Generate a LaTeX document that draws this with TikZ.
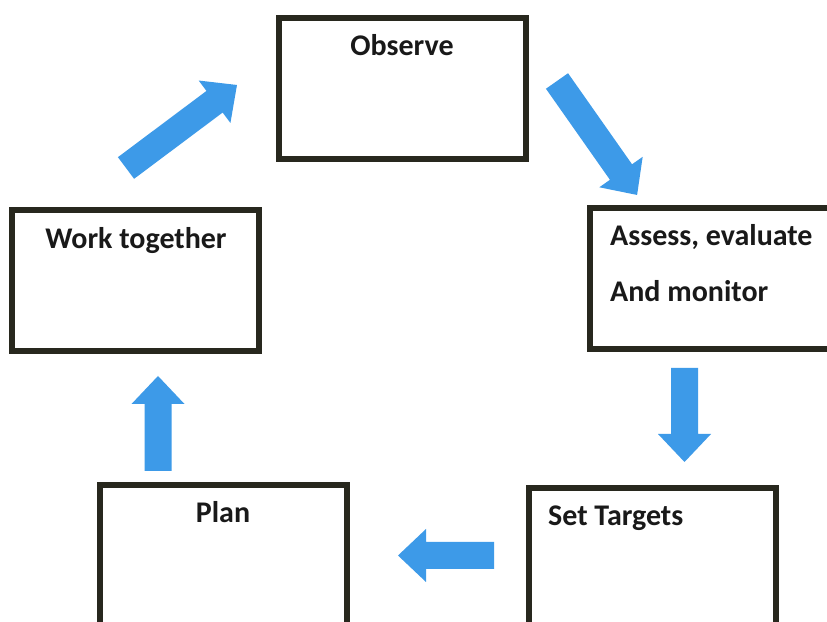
\documentclass[tikz,border=0pt]{standalone}
\usepackage{fontspec}
\setmainfont{Carlito}
\definecolor{boxline}{RGB}{40,40,30}
\definecolor{arrowblue}{RGB}{61,154,232}
\definecolor{txt}{RGB}{25,25,25}
\tikzset{
  stagebox/.style={draw=boxline, line width=6pt, fill=white, rectangle, inner sep=0pt,
    minimum width=247pt, minimum height=141pt},
  stagetext/.style={font=\fontsize{30}{35}\selectfont\bfseries, text=txt, inner sep=0pt},
  pics/blockarrow/.style={code={
    \fill[arrowblue] (0,-13.5) -- (#1-28,-13.5) -- (#1-28,-26.5) -- (#1,0)
      -- (#1-28,26.5) -- (#1-28,13.5) -- (0,13.5) -- cycle;
  }}
}
\begin{document}
\begin{tikzpicture}[x=1pt,y=1pt]
\useasboundingbox (0,0) rectangle (827,621);
\clip (0,0) rectangle (827,621);
\fill[white] (0,0) rectangle (827,621);
% boxes
\node[stagebox] (obs) at (402,532.5) {};
\node[stagebox] (work) at (135.5,340) {};
\node[stagebox] (assess) at (713.5,342.5) {};
\node[stagebox] (targets) at (652.5,62.5) {};
\node[stagebox] (plan) at (223.5,65.5) {};
% texts
\node[stagetext, anchor=base] (tobs) at (402,565) {Observe};
\node[stagetext, anchor=base] (twork) at (136,372) {Work together};
\node[stagetext, anchor=base west] (tassess1) at (610,375) {Assess, evaluate};
\node[stagetext, anchor=base west] (tassess2) at (610,319) {And monitor};
\node[stagetext, anchor=base west] (ttargets) at (548,95) {Set Targets};
\node[stagetext, anchor=base] (tplan) at (223,98) {Plan};
% arrows
\pic[rotate=36.8] at (126,453) {blockarrow=138.6};
\pic[rotate=-54.9] at (557,540) {blockarrow=139.3};
\pic[rotate=-90] at (684.5,253) {blockarrow=94};
\pic[rotate=180] at (494,65.5) {blockarrow=96};
\pic[rotate=90] at (158,150) {blockarrow=95};
\end{tikzpicture}
\end{document}
